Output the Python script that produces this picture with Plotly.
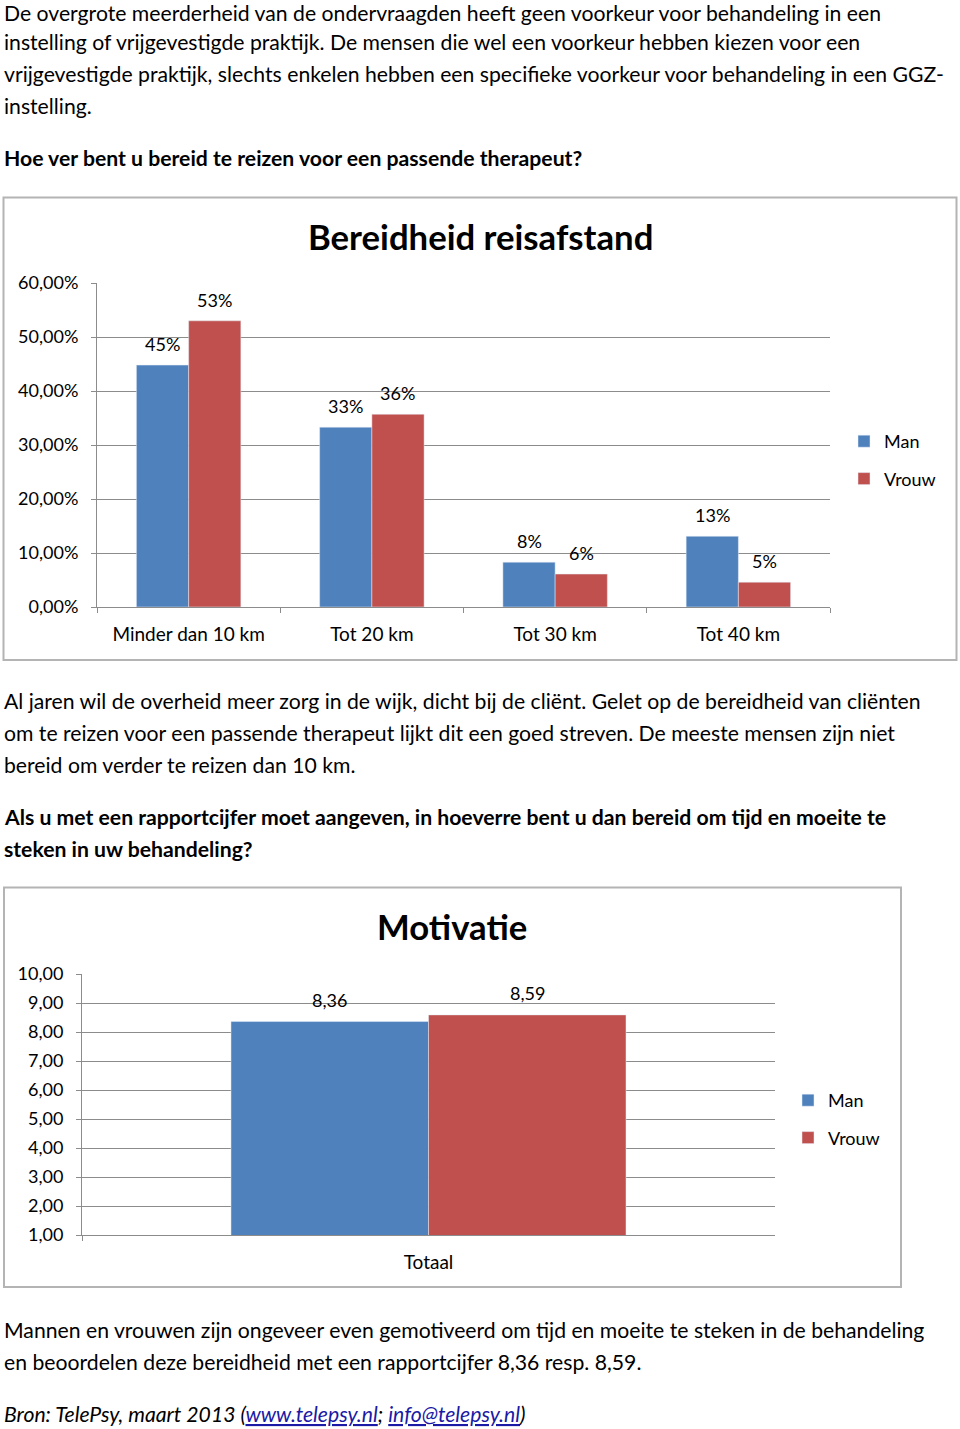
import plotly.graph_objects as go

# ---------------- data ----------------
categories1 = ["Minder dan 10 km", "Tot 20 km", "Tot 30 km", "Tot 40 km"]
man1 = [0.448, 0.333, 0.083, 0.131]
vrouw1 = [0.530, 0.357, 0.061, 0.046]

categories2 = ["Totaal"]
man2 = [8.36]
vrouw2 = [8.59]

series_names = ["Man", "Vrouw"]
BLUE = "#4F81BD"
RED = "#C0504D"
GRID = "#8c8c8c"
BORDER = "#b4b4b4"
FONT = "Lato"
TXT = 21.2
TICK = 18
XTICK = 19

W, H = 960, 1429


def px_x(p):
    return p / W


def px_y(p):
    return 1 - p / H


fig = go.Figure()

# chart 1
fig.add_trace(go.Bar(x=categories1, y=man1, name=series_names[0], marker_color=BLUE,
                     xaxis="x", yaxis="y", legend="legend", legendgroup="m1"))
fig.add_trace(go.Bar(x=categories1, y=vrouw1, name=series_names[1], marker_color=RED,
                     xaxis="x", yaxis="y", legend="legend", legendgroup="v1"))
# chart 2
fig.add_trace(go.Bar(x=categories2, y=man2, name=series_names[0], marker_color=BLUE,
                     xaxis="x2", yaxis="y2", legend="legend2", legendgroup="m2"))
fig.add_trace(go.Bar(x=categories2, y=vrouw2, name=series_names[1], marker_color=RED,
                     xaxis="x2", yaxis="y2", legend="legend2", legendgroup="v2"))

annotations = []

# data labels chart 1
for i, c in enumerate(categories1):
    for vals, shift in ((man1, -26), (vrouw1, 26)):
        annotations.append(dict(xref="x", yref="y", x=c, y=vals[i], xshift=shift, yshift=21,
                                text=f"{round(vals[i]*100):.0f}%", showarrow=False,
                                font=dict(size=TICK, color="#000"), yanchor="middle"))
# data labels chart 2
for i, c in enumerate(categories2):
    for vals, shift in ((man2, -99), (vrouw2, 99)):
        annotations.append(dict(xref="x2", yref="y2", x=c, y=vals[i], xshift=shift, yshift=22,
                                text=f"{vals[i]:.2f}".replace(".", ","), showarrow=False,
                                font=dict(size=TICK, color="#000"), yanchor="middle"))

# chart titles
annotations.append(dict(xref="paper", yref="paper", x=px_x(480), y=px_y(236), text="<b>Bereidheid reisafstand</b>",
                        showarrow=False, font=dict(size=34.7, color="#000"), xanchor="center", yanchor="middle"))
annotations.append(dict(xref="paper", yref="paper", x=px_x(452), y=px_y(927), text="<b>Motivatie</b>",
                        showarrow=False, font=dict(size=34.7, color="#000"), xanchor="center", yanchor="middle"))

# body text (y centre in px, text)
body = [
    (13, "De overgrote meerderheid van de ondervraagden heeft geen voorkeur voor behandeling in een"),
    (42, "instelling of vrijgevestigde praktijk. De mensen die wel een voorkeur hebben kiezen voor een"),
    (74, "vrijgevestigde praktijk, slechts enkelen hebben een specifieke voorkeur voor behandeling in een GGZ-"),
    (106, "instelling."),
    (158, "<b>Hoe ver bent u bereid te reizen voor een passende therapeut?</b>"),
    (701, "Al jaren wil de overheid meer zorg in de wijk, dicht bij de cliënt. Gelet op de bereidheid van cliënten"),
    (733, "om te reizen voor een passende therapeut lijkt dit een goed streven. De meeste mensen zijn niet"),
    (765, "bereid om verder te reizen dan 10 km."),
    (817, "<b>Als u met een rapportcijfer moet aangeven, in hoeverre bent u dan bereid om tijd en moeite te</b>"),
    (849, "<b>steken in uw behandeling?</b>"),
    (1330, "Mannen en vrouwen zijn ongeveer even gemotiveerd om tijd en moeite te steken in de behandeling"),
    (1362, "en beoordelen deze bereidheid met een rapportcijfer 8,36 resp. 8,59."),
    (1414, "<i>Bron: TelePsy, maart 2013 (<span style='color:#1a1aa6'><u>www.telepsy.nl</u></span>; "
           "<span style='color:#1a1aa6'><u>info@telepsy.nl</u></span>)</i>"),
]
for y, t in body:
    annotations.append(dict(xref="paper", yref="paper", x=px_x(2), y=px_y(y), text=t, showarrow=False,
                            xanchor="left", yanchor="middle", font=dict(size=TXT, color="#000")))

shapes = [
    dict(type="rect", xref="paper", yref="paper", x0=px_x(3.5), x1=px_x(956.5), y0=px_y(660), y1=px_y(197.5),
         line=dict(color=BORDER, width=2), fillcolor="rgba(0,0,0,0)", layer="below"),
    dict(type="rect", xref="paper", yref="paper", x0=px_x(4), x1=px_x(901), y0=px_y(1287), y1=px_y(887.5),
         line=dict(color=BORDER, width=2), fillcolor="rgba(0,0,0,0)", layer="below"),
]

axis_common = dict(showline=True, linecolor=GRID, linewidth=1, ticks="outside", ticklen=5, tickcolor=GRID,
                   zeroline=False, automargin=False)

fig.update_layout(
    width=W, height=H, autosize=False,
    margin=dict(l=0, r=0, t=0, b=0, pad=0, autoexpand=False),
    paper_bgcolor="white", plot_bgcolor="white",
    font=dict(family=FONT, color="#000"),
    separators=",.",
    barmode="group", bargap=0.43, bargroupgap=0,
    xaxis=dict(domain=[px_x(97), px_x(830)], anchor="y", type="category", tickson="boundaries",
               showgrid=False, ticklabelstandoff=10, tickfont=dict(size=XTICK, color="#000"), **axis_common),
    yaxis=dict(domain=[px_y(607), px_y(283)], anchor="x", range=[0, 0.6], dtick=0.1, tickformat=".2%",
               showgrid=True, gridcolor=GRID, gridwidth=1, ticklabelstandoff=9,
               tickfont=dict(size=TICK, color="#000"), **axis_common),
    xaxis2=dict(domain=[px_x(82), px_x(775)], anchor="y2", type="category", tickson="boundaries",
                showgrid=False, ticklabelstandoff=10, tickfont=dict(size=XTICK, color="#000"), **axis_common),
    yaxis2=dict(domain=[px_y(1235), px_y(974)], anchor="x2", range=[1, 10], dtick=1, tickformat=".2f",
                showgrid=True, gridcolor=GRID, gridwidth=1, ticklabelstandoff=9,
                tickfont=dict(size=TICK, color="#000"), **axis_common),
    legend=dict(x=px_x(844), y=px_y(460), xanchor="left", yanchor="middle", font=dict(size=TICK),
                traceorder="grouped", tracegroupgap=11, itemwidth=30, bgcolor="rgba(0,0,0,0)"),
    legend2=dict(x=px_x(788), y=px_y(1119), xanchor="left", yanchor="middle", font=dict(size=TICK),
                 traceorder="grouped", tracegroupgap=11, itemwidth=30, bgcolor="rgba(0,0,0,0)"),
    annotations=annotations,
    shapes=shapes,
    showlegend=True,
)

post = (
    "var st=document.createElement('style');"
    "st.textContent='html,body{margin:0!important;padding:0!important;}';"
    "document.head.appendChild(st);"
)

fig.write_html("out.html", config={"displayModeBar": False, "staticPlot": True}, post_script=post)
